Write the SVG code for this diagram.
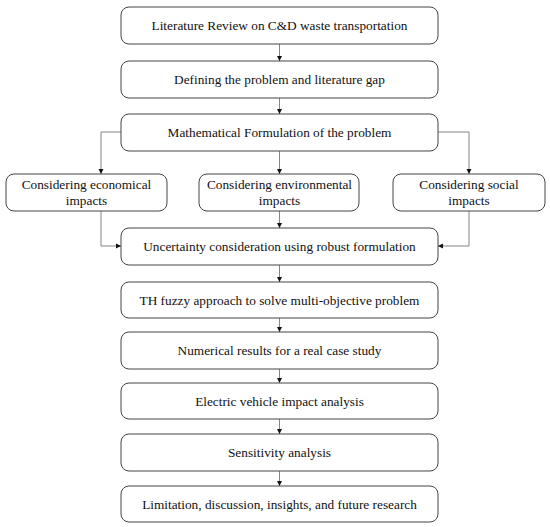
<svg xmlns="http://www.w3.org/2000/svg" width="550" height="527" viewBox="0 0 550 527">
<style>
.box{fill:#fff;stroke:#444;stroke-width:1}
.t{font-family:"Liberation Serif","Times New Roman",serif;font-size:13.3px;fill:#111;text-anchor:middle}
.c{fill:none;stroke:#777;stroke-width:0.9}
</style>
<defs>
<marker id="ah" markerWidth="6" markerHeight="6" refX="5" refY="3" orient="auto" markerUnits="userSpaceOnUse">
<path d="M0,0.5 L5,3 L0,5.5 Z" fill="#111"/>
</marker>
</defs>
<rect width="550" height="527" fill="#fff"/>
<g id="connectors">
<path class="c" d="M279.5,44 V61" marker-end="url(#ah)"/>
<path class="c" d="M279.5,98 V114" marker-end="url(#ah)"/>
<path class="c" d="M121,132 H101 V174" marker-end="url(#ah)"/>
<path class="c" d="M279.5,151 V174" marker-end="url(#ah)"/>
<path class="c" d="M438,132 H469 V174" marker-end="url(#ah)"/>
<path class="c" d="M101,211 V246 H121" marker-end="url(#ah)"/>
<path class="c" d="M279.5,211 V228" marker-end="url(#ah)"/>
<path class="c" d="M469,211 V246 H438" marker-end="url(#ah)"/>
<path class="c" d="M279.5,265 V282" marker-end="url(#ah)"/>
<path class="c" d="M279.5,318 V332" marker-end="url(#ah)"/>
<path class="c" d="M279.5,369 V383" marker-end="url(#ah)"/>
<path class="c" d="M279.5,419 V434" marker-end="url(#ah)"/>
<path class="c" d="M279.5,471 V486" marker-end="url(#ah)"/>
</g>
<g id="n1"><rect class="box" x="121" y="7" width="317" height="37" rx="8"/><text class="t" x="279.5" y="30">Literature Review on C&amp;D waste transportation</text></g>
<g id="n2"><rect class="box" x="121" y="61" width="317" height="37" rx="8"/><text class="t" x="279.5" y="84">Defining the problem and literature gap</text></g>
<g id="n3"><rect class="box" x="121" y="114" width="317" height="37" rx="8"/><text class="t" x="279.5" y="137">Mathematical Formulation of the problem</text></g>
<g id="n4"><rect class="box" x="6" y="174" width="161" height="37" rx="8"/><text class="t" x="86.5" y="189">Considering economical</text><text class="t" x="86.5" y="205">impacts</text></g>
<g id="n5"><rect class="box" x="199" y="174" width="160" height="37" rx="8"/><text class="t" x="279.5" y="189">Considering environmental</text><text class="t" x="279.5" y="205">impacts</text></g>
<g id="n6"><rect class="box" x="393" y="174" width="152" height="37" rx="8"/><text class="t" x="469" y="189">Considering social</text><text class="t" x="469" y="205">impacts</text></g>
<g id="n7"><rect class="box" x="121" y="228" width="317" height="37" rx="8"/><text class="t" x="279.5" y="251">Uncertainty consideration using robust formulation</text></g>
<g id="n8"><rect class="box" x="121" y="282" width="317" height="36" rx="8"/><text class="t" x="279.5" y="304.5">TH fuzzy approach to solve multi-objective problem</text></g>
<g id="n9"><rect class="box" x="121" y="332" width="317" height="37" rx="8"/><text class="t" x="279.5" y="355">Numerical results for a real case study</text></g>
<g id="n10"><rect class="box" x="121" y="383" width="317" height="36" rx="8"/><text class="t" x="279.5" y="405.5">Electric vehicle impact analysis</text></g>
<g id="n11"><rect class="box" x="121" y="434" width="317" height="37" rx="8"/><text class="t" x="279.5" y="457">Sensitivity analysis</text></g>
<g id="n12"><rect class="box" x="121" y="486" width="317" height="36" rx="8"/><text class="t" x="279.5" y="508.5">Limitation, discussion, insights, and future research</text></g>
</svg>
